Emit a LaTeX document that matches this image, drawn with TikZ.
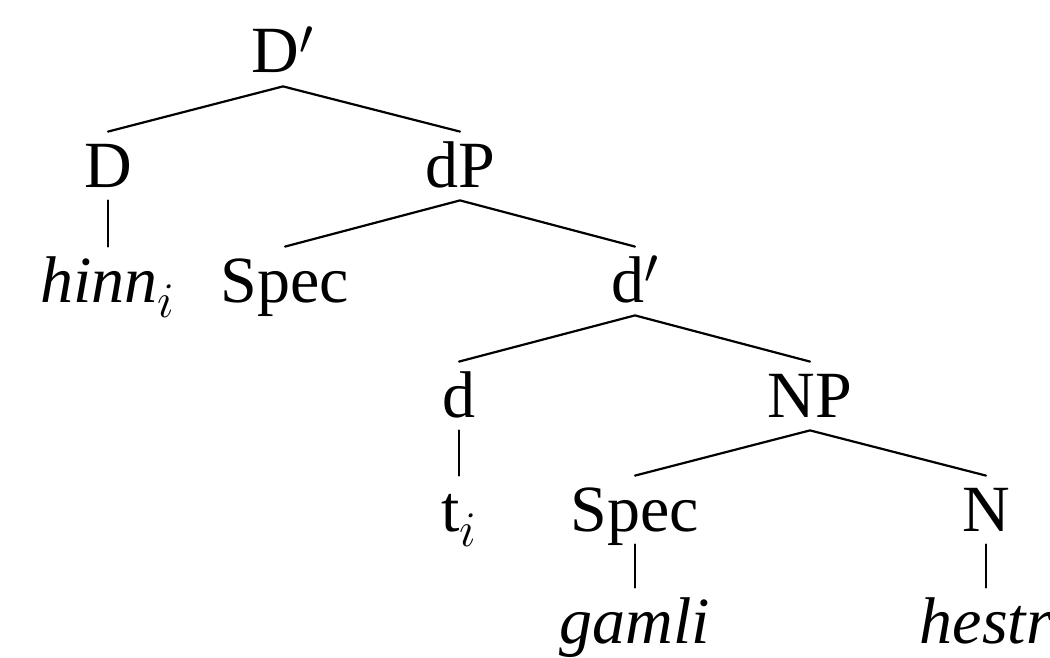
\documentclass[tikz,border=0pt]{standalone}
\usepackage{fontspec}
\setmainfont{Liberation Serif}
\begin{document}
\begin{tikzpicture}[x=0.5pt,y=-0.5pt,
  lab/.style={inner sep=0pt, anchor=base, text height=27.5pt, text depth=6.5pt,
              font=\fontsize{33}{40}\selectfont},
  edge/.style={line width=1.1pt, line cap=round}]
\useasboundingbox (0,0) rectangle (1050,658);
\node[lab] (Dbar)  at (283,73)  {D$'$};
\node[lab] (D)     at (108,187) {D};
\node[lab] (dP)    at (460,187) {dP};
\node[lab] (hinn)  at (108,302) {\textit{hinn}$_i$};
\node[lab] (specA) at (285,302) {Spec};
\node[lab] (dbar)  at (635,302) {d$'$};
\node[lab] (d)     at (459,417) {d};
\node[lab] (NP)    at (810,417) {NP};
\node[lab] (t)     at (459,531) {t$_i$};
\node[lab] (specB) at (635,531) {Spec};
\node[lab] (N)     at (986,531) {N};
\node[lab] (gamli) at (635,643) {\textit{gamli}};
\node[lab] (hestr) at (986,643) {\textit{hestr}};
\draw[edge] (D.north) -- (Dbar.south) -- (dP.north);
\draw[edge] (D.south) -- (hinn.north);
\draw[edge] (specA.north) -- (dP.south) -- (dbar.north);
\draw[edge] (d.north) -- (dbar.south) -- (NP.north);
\draw[edge] (d.south) -- (t.north);
\draw[edge] (specB.north) -- (NP.south) -- (N.north);
\draw[edge] (specB.south) -- (gamli.north);
\draw[edge] (N.south) -- (hestr.north);
\end{tikzpicture}
\end{document}
